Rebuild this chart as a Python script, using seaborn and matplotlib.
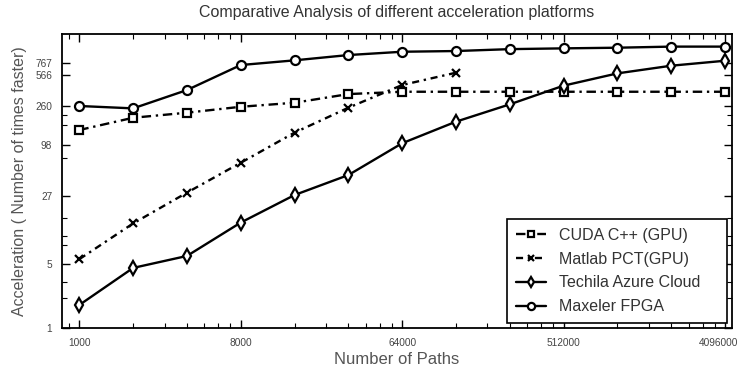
import numpy as np
import pandas as pd
import matplotlib
matplotlib.use("Agg")
import matplotlib.pyplot as plt
import matplotlib.ticker as mticker
from matplotlib.transforms import ScaledTranslation
import seaborn as sns

paths = [1000, 2000, 4000, 8000, 16000, 32000, 64000, 128000, 256000,
         512000, 1024000, 2048000, 4096000]
cuda = [142, 193, 219, 254, 281, 349, 370, 370, 370, 370, 370, 370, 370]
matlab_paths = [1000, 2000, 4000, 8000, 16000, 32000, 64000, 128000]
matlab = [5.6, 13.7, 29.6, 62.6, 133, 248, 438, 596]
techila = [1.78, 4.5, 6.07, 14, 27.9, 46, 102, 175, 270, 431, 586, 710, 804]
maxeler = [259, 244, 386, 722, 812, 927, 1007, 1025, 1075, 1096, 1114, 1145, 1145]

series_names = ["CUDA C++ (GPU)", "Matlab PCT(GPU)", "Techila Azure Cloud", "Maxeler FPGA"]
x_ticks = [1000, 8000, 64000, 512000, 4096000]
y_ticks = [1, 5, 27, 98, 260, 566, 767]

series = [
    (paths, cuda, "s", (0, (4, 2, 1, 2)), 5.5),
    (matlab_paths, matlab, "x", (0, (3, 2, 1, 2)), 6),
    (paths, techila, "d", "-", 7),
    (paths, maxeler, "o", "-", 6.5),
]

sns.set_theme(style="ticks")
plt.rcParams["font.family"] = ["Liberation Sans", "DejaVu Sans"]

fig = plt.figure(figsize=(7.42, 3.68), dpi=100)
ax = fig.add_axes([62 / 742, 1 - 328 / 368, (732 - 62) / 742, (328 - 34) / 368])
ax.set_xscale("log", base=2)
ax.set_yscale("log")

handles = []
for name, (xs, ys, mk, ls, ms) in zip(series_names, series):
    d = pd.DataFrame({"paths": xs, "acc": ys})
    sns.lineplot(data=d, x="paths", y="acc", color="black", marker=mk,
                 linestyle=ls, linewidth=1.7, markersize=ms,
                 mfc="white", mec="black", mew=1.6, ax=ax)
    handles.append(ax.get_lines()[-1])

ax.set_xlim(800, 4.48e6)
ax.set_ylim(1, 1570)

ax.xaxis.set_major_locator(mticker.FixedLocator(x_ticks))
ax.xaxis.set_major_formatter(mticker.FixedFormatter([str(v) for v in x_ticks]))
xminor = []
for base in [125, 1000, 8000, 64000, 512000]:
    for k in range(2, 8):
        xminor.append(base * k)
ax.xaxis.set_minor_locator(mticker.FixedLocator(xminor))
ax.xaxis.set_minor_formatter(mticker.NullFormatter())

ax.yaxis.set_major_locator(mticker.FixedLocator(y_ticks))
ax.yaxis.set_major_formatter(mticker.FixedFormatter([str(v) for v in y_ticks]))
ax.yaxis.set_minor_locator(mticker.FixedLocator([2.1, 3.2, 8, 10, 15.7, 70, 160, 207]))
ax.yaxis.set_minor_formatter(mticker.NullFormatter())

ax.tick_params(which="both", direction="in", top=True, right=True, color="black")
ax.tick_params(which="major", length=6, width=1.0, labelsize=7.3, labelcolor="#444444", pad=7)
ax.tick_params(which="minor", length=3.5, width=0.8)
for s in ax.spines.values():
    s.set_linewidth(1.3)
    s.set_color("black")

ax.set_xlabel("Number of Paths", fontsize=12, color="#555555", labelpad=3)
ax.set_ylabel("Acceleration ( Number of times faster)", fontsize=11.5, color="#555555", labelpad=6)
ax.set_title("Comparative Analysis of different acceleration platforms",
             fontsize=11.5, color="#333333", pad=12)

x0 = (507 - 62) / 670
w = (727 - 507) / 670
y0 = (328 - 323) / 294
h = (323 - 217) / 294
leg = ax.legend(handles, series_names, loc="lower left", fontsize=11.5,
                frameon=True, fancybox=False, framealpha=1, edgecolor="black",
                handlelength=1.9, handletextpad=0.8, borderpad=0.55,
                labelspacing=0.55, markerscale=0.8, mode="expand",
                bbox_to_anchor=(x0, y0, w, h), borderaxespad=0)
leg.get_frame().set_linewidth(1.2)
for t in leg.get_texts():
    t.set_color("#333333")

fig.canvas.draw()
last = ax.xaxis.get_major_ticks()[-1].label1
last.set_transform(last.get_transform() + ScaledTranslation(-5 / 72, 0, fig.dpi_scale_trans))

fig.savefig("out.png", dpi=100)
